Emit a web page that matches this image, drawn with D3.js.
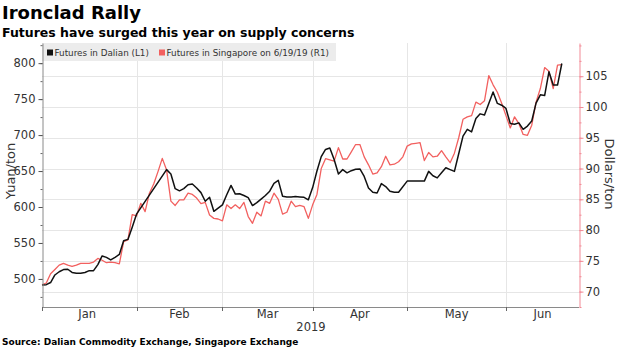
<!DOCTYPE html>
<html>
<head>
<meta charset="utf-8">
<script src="https://cdn.jsdelivr.net/npm/d3@7"></script>
<style>
  body { margin: 0; background: #fff; }
  svg { display: block; }
  text { font-family: "DejaVu Sans", sans-serif; }
</style>
</head>
<body>
<svg id="chart" width="620" height="348"></svg>
<script>
// Weekday calendar for the axis; the series begin on the first trading day
const calendarStart = "2019-01-01";
const calendarEnd = "2019-06-26";
const seriesStart = "2019-01-02";

const monthLabels = ["Jan", "Feb", "Mar", "Apr", "May", "Jun"];
const yearLabel = "2019";
const leftTicks = [500, 550, 600, 650, 700, 750, 800];
const rightTicks = [70, 75, 80, 85, 90, 95, 100, 105];

// Dalian iron ore futures, yuan/ton, one value per weekday from Jan 2 (null = market shut)
const dalian = [
  491.5, 492, 495, 505.5, 510, 513, 513.5, 509, 508, 508,
  509, 511.5, 511.5, 520, 532, 530, 526.5, 530, 534, 553,
  555, 572, 590, null, null, null, null, null, null, 652,
  646, 625.5, 622.5, 625.5, 631, 632, 626.5, 620, 608, 613.5,
  594, 598.5, 603, 617, 630, 618, 618.5, 616, 613, 602,
  606, 611, 616, 622, 633, 637, 615, 614, 614, 614.5,
  614, 613.5, 610, 627, 650, 670, 680, 682, 666, 646,
  652, 647.5, 650.5, 652.5, 653, 642.5, 626.5, 620.5, 619.5, 632.5,
  628.5, 622, 620.5, 620.5, null, 636, null, null, null, 636,
  649.5, 643.5, 640.5, 647.5, 654.5, 652, 649.5, 674, 698.5, 708,
  704.5, 723, 729.5, 728, 744, 760, 744, 741.5, 737, 716,
  715, 717, 708, 712.5, 719.5, 744.5, 756, 755, 788, 769.5,
  769.5, 799.5
];

// Singapore iron ore futures, dollars/ton, one value per weekday from Jan 2
const singapore = [
  71.1, 71.4, 72.9, 73.6, 74.3, 74.6, 74.3, 74.1, 74.3, 74.6,
  74.6, 74.6, 74.8, 75.4, 75.1, 74.7, 74.8, 74.7, 74.5, 78.1,
  78.4, 82.5, 82.3, 84.35, 83, 86, 87.5, 89.5, 91.65, 89.75,
  84.7, 84, 84.9, 84.9, 86, 85.8, 85.2, 84.3, 84.5, 82.45,
  81.9, 81.8, 81.5, 84.1, 83.5, 84.1, 83.5, 84.5, 82.2, 81.1,
  82.9, 82.3, 84.7, 84.35, 86, 85, 82.6, 82.9, 84.7, 83.8,
  84, 83.8, 81.9, 84.1, 85.8, 90, 91.6, 91.4, 91.2, 93.4,
  91.55, 91.55, 92.7, 93.9, 93.9, 91.9, 90.6, 89.1, 89.3, 90.3,
  92, 90.6, 90.7, 91.1, 91.9, 93.65, 94, 94.1, 94.2, 91.3,
  92.6, 91.9, 92, 92.9, 91.9, 90.95, 92.5, 95, 98, 98.4,
  98.6, 100.8, 100.4, 101, 105.1, 103.6, 102.4, 100.6, 98.6, 96.6,
  98.4, 97.3, 95.55, 95.4, 97.05, 100.8, 103, 106.4, 105.8, 103,
  106.8, 106.9
];

const seriesNames = ["Futures in Dalian (L1)", "Futures in Singapore on 6/19/19 (R1)"];
const seriesColors = ["#111111", "#f2605f"];

const parse = d3.timeParse("%Y-%m-%d");
const isWeekday = d => d.getDay() !== 0 && d.getDay() !== 6;
const days = d3.timeDay
  .range(parse(calendarStart), d3.timeDay.offset(parse(calendarEnd), 1))
  .filter(isWeekday);
const firstIdx = days.findIndex(d => +d === +parse(seriesStart));

const svg = d3.select("#chart");
const plot = { left: 42, right: 579, top: 43, bottom: 307 };

const x = d3.scaleLinear().domain([firstIdx, days.length - 1]).range([plot.left, plot.right]);
const yL = d3.scaleLinear().domain([461, 828]).range([plot.bottom, plot.top]);
const yR = d3.scaleLinear().domain([67.5, 110.4]).range([plot.bottom, plot.top]);

// month boundaries on the weekday axis
const months = d3.timeMonth.range(parse(calendarStart), d3.timeDay.offset(parse(calendarEnd), 1));
const monthStarts = months.map(m => days.findIndex(d => d >= m));

// Titles
svg.append("text").attr("x", 2).attr("y", 19)
  .attr("font-size", 18).attr("font-weight", "bold").attr("fill", "#000")
  .text("Ironclad Rally");
svg.append("text").attr("x", 2).attr("y", 37)
  .attr("font-size", 12.5).attr("font-weight", "bold").attr("fill", "#000")
  .text("Futures have surged this year on supply concerns");

// Grid
const grid = svg.append("g").attr("stroke", "#e6e6e6").attr("stroke-width", 1);
rightTicks.forEach(v => {
  const yy = Math.round(yR(v)) + 0.5;
  grid.append("line").attr("x1", plot.left).attr("x2", plot.right).attr("y1", yy).attr("y2", yy);
});
monthStarts.slice(1).forEach(i => {
  const xx = Math.round(x(i)) + 0.5;
  grid.append("line").attr("x1", xx).attr("x2", xx).attr("y1", plot.top).attr("y2", plot.bottom);
});

// Legend band
const legend = svg.append("g");
legend.append("rect").attr("x", plot.left).attr("y", 43).attr("width", 294).attr("height", 18)
  .attr("fill", "#ececec");
const legendX = [[47, 54.5], [159, 166.5]];
seriesNames.forEach((name, k) => {
  legend.append("rect").attr("x", legendX[k][0]).attr("y", 49.5).attr("width", 6).attr("height", 6)
    .attr("fill", seriesColors[k]);
  legend.append("text").attr("x", legendX[k][1]).attr("y", 56)
    .attr("font-size", 8.8).attr("fill", "#333").text(name);
});

// Lines
const toPoints = arr => arr.map((v, k) => ({ i: firstIdx + k, v })).filter(d => d.v !== null);
svg.append("path").datum(toPoints(singapore))
  .attr("fill", "none").attr("stroke", seriesColors[1]).attr("stroke-width", 1.3)
  .attr("stroke-linejoin", "round")
  .attr("d", d3.line().x(d => x(d.i)).y(d => yR(d.v)));
svg.append("path").datum(toPoints(dalian))
  .attr("fill", "none").attr("stroke", seriesColors[0]).attr("stroke-width", 1.5)
  .attr("stroke-linejoin", "round")
  .attr("d", d3.line().x(d => x(d.i)).y(d => yL(d.v)));

// Left axis
const leftAxis = svg.append("g").attr("transform", `translate(${plot.left + 0.5},0)`);
leftAxis.call(d3.axisLeft(yL).tickValues(d3.range(475, 826, 25)).tickSize(2).tickSizeOuter(0).tickFormat(""));
leftAxis.call(g => g.select(".domain").attr("stroke", "#8a8a8a"));
leftAxis.selectAll(".tick line").attr("stroke", "#666");
const leftMajor = svg.append("g").attr("transform", `translate(${plot.left + 0.5},0)`)
  .call(d3.axisLeft(yL).tickValues(leftTicks).tickSize(4).tickPadding(3).tickSizeOuter(0));
leftMajor.select(".domain").remove();
leftMajor.selectAll(".tick line").attr("stroke", "#555");
leftMajor.selectAll(".tick text").attr("font-size", 11.5).attr("fill", "#333")
  .attr("font-family", "DejaVu Sans");

// Right axis
const rightAxis = svg.append("g").attr("transform", `translate(${plot.right + 0.5},0)`);
rightAxis.call(d3.axisRight(yR).tickValues(d3.range(67.5, 110.5, 2.5)).tickSize(2).tickSizeOuter(0).tickFormat(""));
rightAxis.select(".domain").attr("stroke", "#f28a96");
rightAxis.selectAll(".tick line").attr("stroke", "#f28a96");
const rightMajor = svg.append("g").attr("transform", `translate(${plot.right + 0.5},0)`)
  .call(d3.axisRight(yR).tickValues(rightTicks).tickSize(4).tickPadding(2).tickSizeOuter(0));
rightMajor.select(".domain").remove();
rightMajor.selectAll(".tick line").attr("stroke", "#f28a96");
rightMajor.selectAll(".tick text").attr("font-size", 11.5).attr("fill", "#333")
  .attr("font-family", "DejaVu Sans");

// Bottom axis
const bottom = svg.append("g");
bottom.append("line").attr("x1", plot.left).attr("x2", plot.right)
  .attr("y1", plot.bottom + 0.5).attr("y2", plot.bottom + 0.5).attr("stroke", "#8a8a8a");
const tickXs = [plot.left].concat(monthStarts.slice(1).map(i => x(i)));
tickXs.forEach(xx => {
  const px = Math.round(xx) + 0.5;
  bottom.append("line").attr("x1", px).attr("x2", px).attr("y1", plot.bottom).attr("y2", plot.bottom + 4)
    .attr("stroke", "#666");
});
monthLabels.forEach((m, k) => {
  const a = x(monthStarts[k]);
  const b = k + 1 < monthStarts.length ? x(monthStarts[k + 1]) : plot.right;
  bottom.append("text").attr("x", (a + Math.min(b, plot.right)) / 2).attr("y", 318)
    .attr("text-anchor", "middle").attr("font-size", 11.5).attr("fill", "#333").text(m);
});
bottom.append("text").attr("x", (plot.left + plot.right) / 2 + 0.5).attr("y", 331)
  .attr("text-anchor", "middle").attr("font-size", 11.5).attr("fill", "#333").text(yearLabel);

// Axis titles
svg.append("text").attr("transform", `translate(15,171) rotate(-90)`)
  .attr("text-anchor", "middle").attr("font-size", 13).attr("fill", "#333").text("Yuan/ton");
svg.append("text").attr("transform", `translate(605,174) rotate(90)`)
  .attr("text-anchor", "middle").attr("font-size", 13).attr("fill", "#333").text("Dollars/ton");

// Source
svg.append("text").attr("x", 2).attr("y", 345)
  .attr("font-size", 9).attr("font-weight", "bold").attr("fill", "#000")
  .text("Source: Dalian Commodity Exchange, Singapore Exchange");
</script>
</body>
</html>
